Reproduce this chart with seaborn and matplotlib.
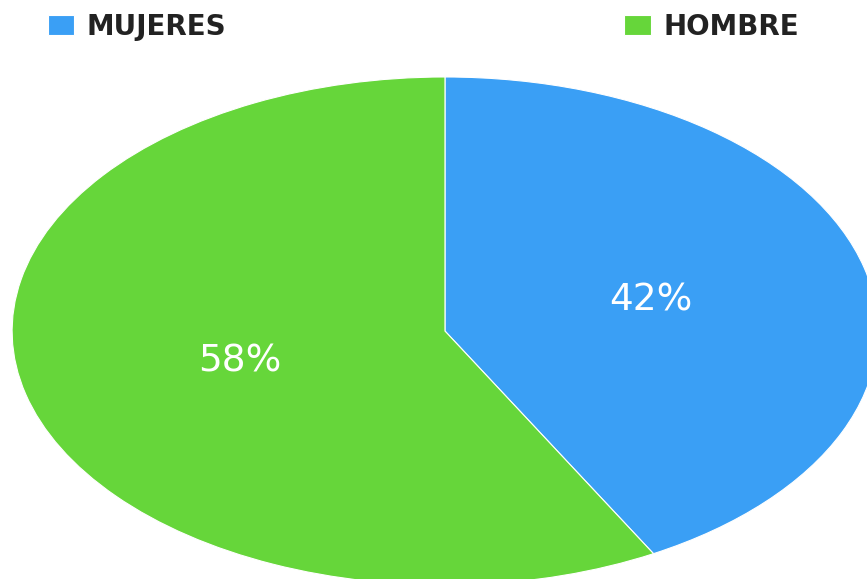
import seaborn as sns
import matplotlib.pyplot as plt

# values
labels = ["MUJERES", "HOMBRE"]
shares = [42, 58]
colors = ["#3a9ff5", "#66d63a"]

sns.set_theme(style="white")
plt.rcParams['font.family'] = ['DejaVu Sans']

fig = plt.figure(figsize=(8.67, 5.79), dpi=100)
ax = fig.add_axes([0, 0, 1, 1])

wedges, texts, autotexts = ax.pie(
    shares,
    colors=colors,
    startangle=90,
    counterclock=False,
    autopct="%d%%",
    pctdistance=0.49,
    wedgeprops=dict(edgecolor="white", linewidth=0.8),
    textprops=dict(color="white", fontsize=27),
)

# the reference pie is an ellipse, stretched sideways
ax.set_aspect("auto")
ax.set_xlim(-1.028, 0.975)
ax.set_ylim(-0.976, 1.303)
ax.axis("off")

# legend entries sit apart at the top of the picture
for wedge, lab, x in zip(wedges, labels, [0.055, 0.72]):
    fig.legend(
        [wedge], [lab],
        loc="upper left",
        bbox_to_anchor=(x, 0.978),
        frameon=False,
        handlelength=0.95,
        handleheight=0.7,
        handletextpad=0.45,
        borderpad=0,
        borderaxespad=0,
        labelcolor="#222222",
        prop=dict(weight="bold", size=20),
    )

fig.savefig("out.png", dpi=100)
